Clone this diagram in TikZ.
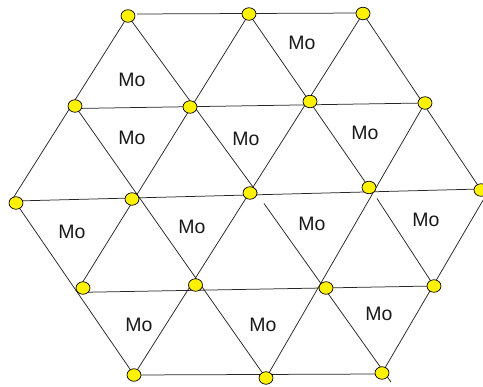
\documentclass[tikz,border=0pt]{standalone}
\usepackage{fontspec}
\setmainfont{Liberation Sans}
\usetikzlibrary{shapes.geometric,backgrounds}
\tikzset{
  atom/.style={ellipse,draw=black,line width=0.7pt,fill=yellow,minimum width=14pt,minimum height=12.5pt,inner sep=0pt},
  lbl/.style={font=\fontsize{19.5}{22}\selectfont,text=black!90,inner sep=0pt},
  bond/.style={draw=black!85,line width=0.75pt}
}
\begin{document}
\begin{tikzpicture}[x=1pt,y=-1pt]
\useasboundingbox (0,0) rectangle (483,387);
\foreach \n/\x/\y in {a1/128/16,a2/249/14,a3/363/13.5,
  b1/75/106,b2/190/107,b3/310/101.5,b4/425/103,
  c1/16/203,c2/132/199,c3/250/193,c4/369/187.5,c5/481/190,
  d1/83/288,d2/195.5/285,d3/326/288,d4/434/286,
  e1/134/375,e2/266/378,e3/382/373}
  \node[atom] (\n) at (\x,\y) {};
\coordinate (tail) at (391,382);
\begin{scope}[on background layer]
\fill[white] (0,0) rectangle (483,387);
% rows
\draw[bond,shorten <=2pt] ([xshift=7pt,yshift=2pt]a1.center) -- ([yshift=0.5pt]a3.center);
\draw[bond] ([yshift=-2.5pt]b1.center) -- (b4.center);
\draw[bond] ([yshift=2pt]c1.center) -- ([yshift=1pt]c5.center);
\draw[bond] ([yshift=-4.3pt]d1.center) -- (d4.center);
\draw[bond] (e1.center) -- ([yshift=-1pt]e3.center);
% falling diagonals
\draw[bond] (a1.center) -- (c3.east);
\draw[bond] ([xshift=14pt,yshift=-10.5pt]c3.center) -- (tail);
\draw[bond] (b1.center) -- (e2.center);
\draw[bond] (c1.center) -- (e1.center);
\draw[bond] (a2.center) -- (c4.center);
\draw[bond] ([xshift=8pt,yshift=-11pt]c4.center) -- (d4.center);
\draw[bond] (a3.center) -- (c5.center);
% rising diagonals
\draw[bond] (a1.center) -- ([xshift=-6pt]c1.center);
\draw[bond] (a2.center) -- ([xshift=-4pt]d1.center);
\draw[bond] (a3.center) -- (e1.center);
\draw[bond] (b4.center) -- (e2.center);
\draw[bond] ([xshift=8pt]c5.center) -- (e3.center);
\end{scope}
\foreach \n/\x/\y in {m1/132/80,m2/132/138,m3/246/139,m4/302/43,m5/365/133,
  m6/72/232,m7/192/227,m8/312/224,m9/426/220,m10/139/325,m11/263/325,m12/379/314}
  \node[lbl] (\n) at (\x,\y) {Mo};
\end{tikzpicture}
\end{document}
